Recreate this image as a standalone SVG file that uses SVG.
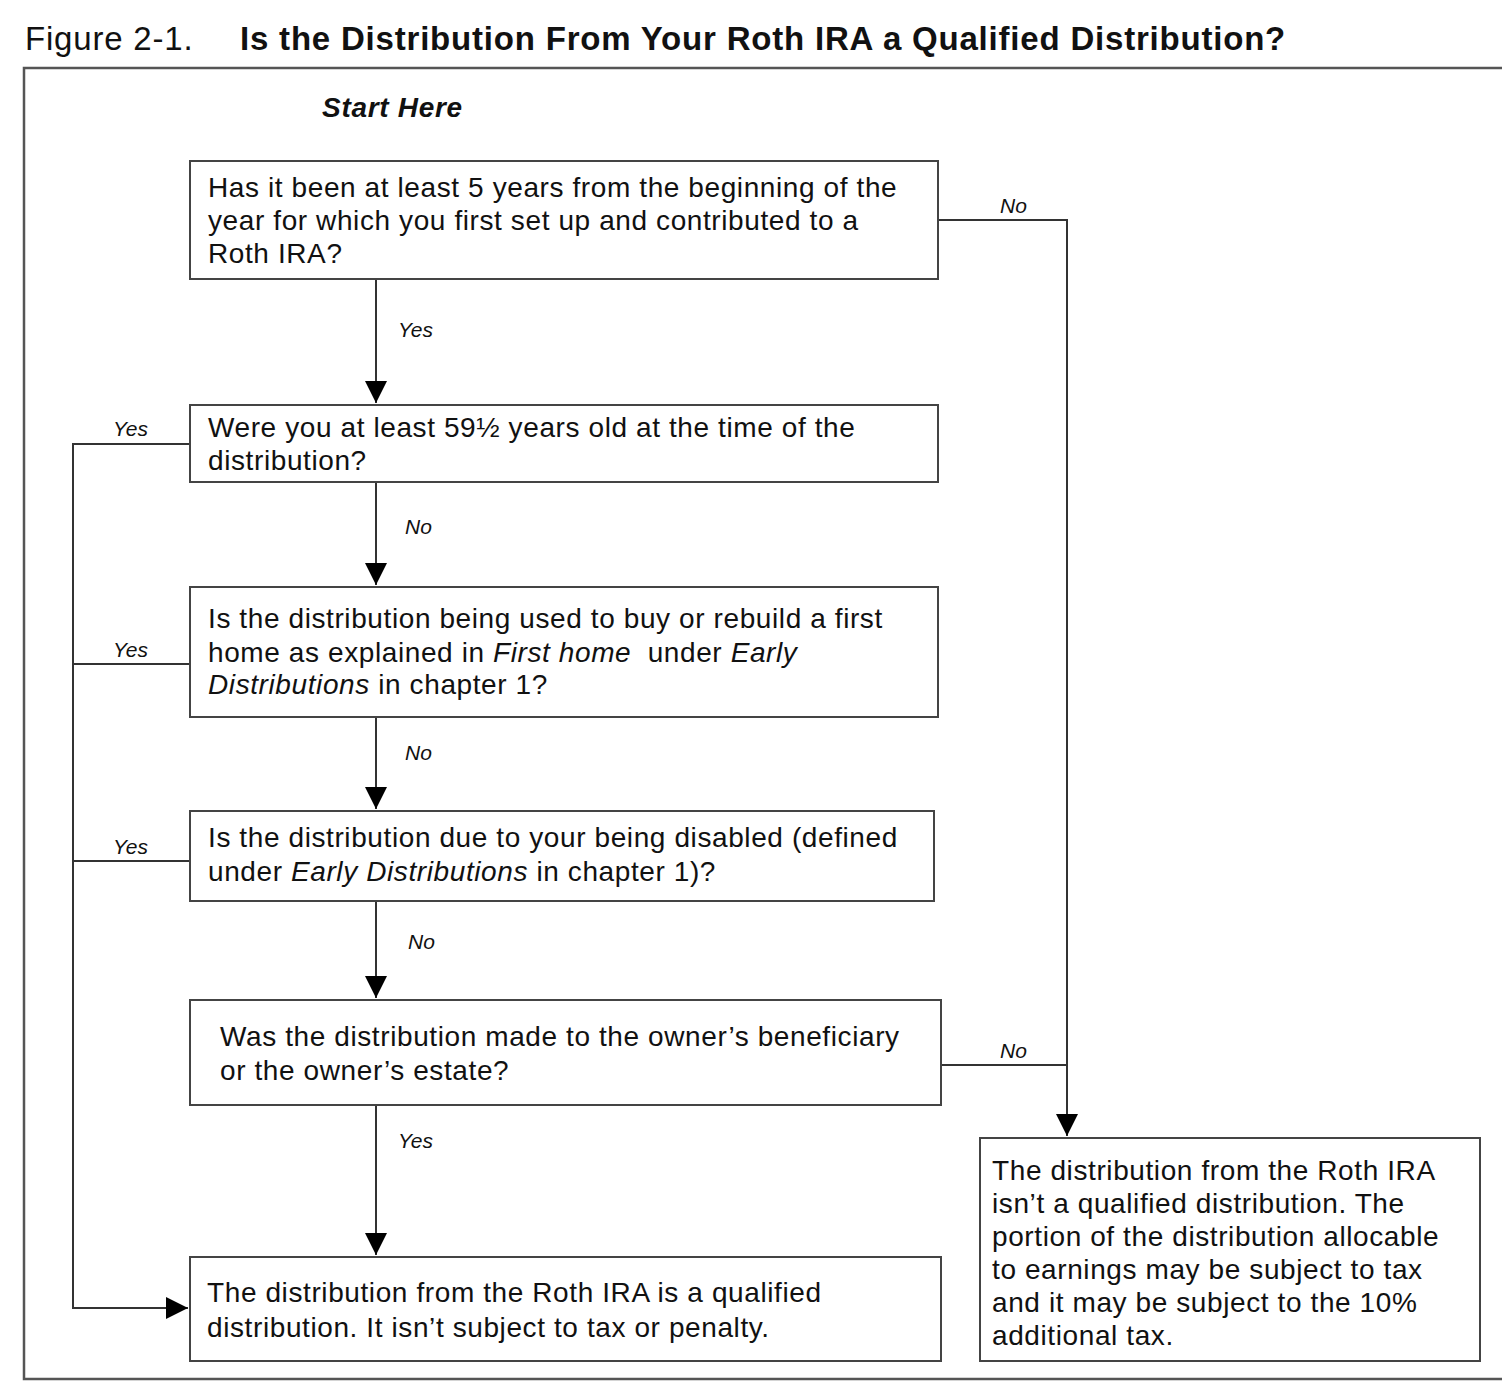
<svg xmlns="http://www.w3.org/2000/svg" width="1502" height="1390" viewBox="0 0 1502 1390">
<style>
text{font-family:"Liberation Sans",Arial,sans-serif;fill:#111}
.t{font-size:28px;letter-spacing:0.6px}
.lbl{font-size:21px;font-style:italic}
.i{font-style:italic}
.box{fill:#fff;stroke:#444;stroke-width:2}
.ln{fill:none;stroke:#333;stroke-width:2}
.frame{fill:none;stroke:#555;stroke-width:2.5}
</style>
<defs>
<marker id="ah" markerWidth="24" markerHeight="24" refX="22" refY="12" orient="auto" markerUnits="userSpaceOnUse">
<path d="M0,1 L22,12 L0,23 Z" fill="#000"/>
</marker>
</defs>
<rect width="1502" height="1390" fill="#fff"/>
<g id="title">
<text x="25" y="50" style="font-size:33px;letter-spacing:0.8px">Figure 2-1.</text>
<text x="240" y="50" style="font-size:33px;letter-spacing:0.8px;font-weight:bold">Is the Distribution From Your Roth IRA a Qualified Distribution?</text>
</g>
<path class="frame" d="M1502,68 H24 V1379 H1502"/>
<text x="322" y="117" style="font-size:28px;letter-spacing:0.7px;font-weight:bold;font-style:italic">Start Here</text>

<g id="connectors">
<path class="ln" d="M376,279 V403" marker-end="url(#ah)"/>
<path class="ln" d="M376,482 V585" marker-end="url(#ah)"/>
<path class="ln" d="M376,717 V809" marker-end="url(#ah)"/>
<path class="ln" d="M376,901 V998" marker-end="url(#ah)"/>
<path class="ln" d="M376,1105 V1255" marker-end="url(#ah)"/>
<path class="ln" d="M938,220 H1067 V1136" marker-end="url(#ah)"/>
<path class="ln" d="M941,1065 H1067"/>
<path class="ln" d="M190,444 H73 V1308 H188" marker-end="url(#ah)"/>
<path class="ln" d="M190,664 H73"/>
<path class="ln" d="M190,861 H73"/>
<text class="lbl" x="1000" y="213">No</text>
<text class="lbl" x="398" y="337">Yes</text>
<text class="lbl" x="113" y="436">Yes</text>
<text class="lbl" x="405" y="534">No</text>
<text class="lbl" x="113" y="657">Yes</text>
<text class="lbl" x="405" y="760">No</text>
<text class="lbl" x="113" y="854">Yes</text>
<text class="lbl" x="408" y="949">No</text>
<text class="lbl" x="1000" y="1058">No</text>
<text class="lbl" x="398" y="1148">Yes</text>
</g>

<g id="q1">
<rect class="box" x="190" y="161" width="748" height="118"/>
<text class="t" x="208" y="197">Has it been at least 5 years from the beginning of the</text>
<text class="t" x="208" y="230">year for which you first set up and contributed to a</text>
<text class="t" x="208" y="263">Roth IRA?</text>
</g>
<g id="q2">
<rect class="box" x="190" y="405" width="748" height="77"/>
<text class="t" x="208" y="437">Were you at least 59½ years old at the time of the</text>
<text class="t" x="208" y="470">distribution?</text>
</g>
<g id="q3">
<rect class="box" x="190" y="587" width="748" height="130"/>
<text class="t" x="208" y="628">Is the distribution being used to buy or rebuild a first</text>
<text class="t" x="208" y="662">home as explained in <tspan class="i">First home</tspan><tspan dx="8"> under </tspan><tspan class="i">Early</tspan></text>
<text class="t" x="208" y="694"><tspan class="i">Distributions</tspan> in chapter 1?</text>
</g>
<g id="q4">
<rect class="box" x="190" y="811" width="744" height="90"/>
<text class="t" x="208" y="847">Is the distribution due to your being disabled (defined</text>
<text class="t" x="208" y="881">under <tspan class="i">Early Distributions</tspan> in chapter 1)?</text>
</g>
<g id="q5">
<rect class="box" x="190" y="1000" width="751" height="105"/>
<text class="t" x="220" y="1046">Was the distribution made to the owner’s beneficiary</text>
<text class="t" x="220" y="1080">or the owner’s estate?</text>
</g>
<g id="qualified">
<rect class="box" x="190" y="1257" width="751" height="104"/>
<text class="t" x="207" y="1302">The distribution from the Roth IRA is a qualified</text>
<text class="t" x="207" y="1337">distribution. It isn’t subject to tax or penalty.</text>
</g>
<g id="notqualified">
<rect class="box" x="980" y="1138" width="500" height="223"/>
<text class="t" x="992" y="1180">The distribution from the Roth IRA</text>
<text class="t" x="992" y="1213">isn’t a qualified distribution. The</text>
<text class="t" x="992" y="1246">portion of the distribution allocable</text>
<text class="t" x="992" y="1279">to earnings may be subject to tax</text>
<text class="t" x="992" y="1312">and it may be subject to the 10%</text>
<text class="t" x="992" y="1345">additional tax.</text>
</g>
</svg>
